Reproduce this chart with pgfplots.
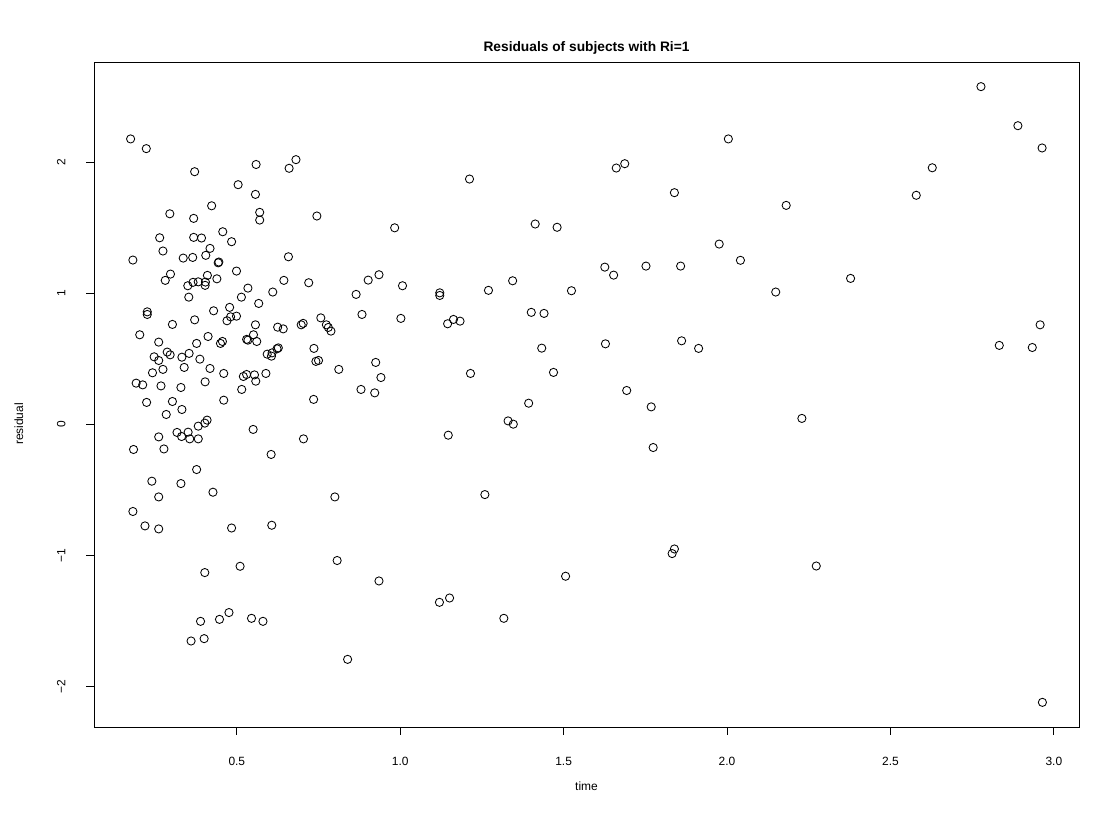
\documentclass[border=0pt]{standalone}
\usepackage{fontspec}
\setmainfont{Liberation Sans}
\usepackage{pgfplots}
\pgfplotsset{compat=1.18}

\begin{document}
\begin{tikzpicture}[x=1bp,y=1bp]
\path (0,0) rectangle (1105,818);
\begin{axis}[
  at={(94bp,91bp)}, anchor=south west,
  scale only axis, width=985bp, height=665bp,
  xmin=0.063, xmax=3.077, ymin=-2.31, ymax=2.763,
  axis line style={line width=0.8bp},
  tick style={line width=0.8bp, black},
  xtick={0.5,1.0,1.5,2.0,2.5,3.0},
  xticklabels={0.5,1.0,1.5,2.0,2.5,3.0},
  ytick={-2,-1,0,1,2},
  yticklabels={−2,−1,0,1,2},
  xtick pos=bottom, ytick pos=left,
  tick align=outside, major tick length=8bp,
  ticklabel style={font=\fontsize{12}{14}\selectfont},
  xticklabel shift=19bp,
  yticklabel shift=17bp,
  yticklabel style={rotate=90, anchor=south},
]
\addplot[only marks, mark=o, mark size=4.1bp, mark options={line width=0.85bp, black}]
coordinates {
(0.175,2.176) (0.223,2.102) (0.371,1.926) (0.559,1.981) (0.504,1.827)
(0.557,1.753) (0.570,1.616) (0.570,1.557) (0.423,1.666) (0.295,1.605)
(0.368,1.570) (0.457,1.468) (0.484,1.392) (0.264,1.422) (0.368,1.425)
(0.392,1.420) (0.418,1.341) (0.274,1.321) (0.182,1.252) (0.336,1.267)
(0.365,1.272) (0.405,1.288) (0.443,1.231) (0.445,1.237) (0.499,1.168)
(0.297,1.145) (0.281,1.097) (0.410,1.135) (0.439,1.109) (0.350,1.056)
(0.366,1.082) (0.382,1.086) (0.404,1.084) (0.403,1.059) (0.534,1.038)
(0.514,0.969) (0.567,0.921) (0.610,1.008) (0.353,0.969) (0.226,0.857)
(0.226,0.837) (0.429,0.865) (0.478,0.891) (0.481,0.819) (0.470,0.789)
(0.499,0.824) (0.371,0.796) (0.303,0.761) (0.557,0.758) (0.203,0.682)
(0.261,0.626) (0.377,0.616) (0.412,0.669) (0.450,0.616) (0.456,0.631)
(0.530,0.647) (0.534,0.641) (0.551,0.682) (0.561,0.631) (0.593,0.534)
(0.606,0.519) (0.247,0.514) (0.261,0.486) (0.287,0.550) (0.296,0.529)
(0.332,0.511) (0.354,0.540) (0.387,0.496) (0.242,0.392) (0.274,0.418)
(0.339,0.433) (0.418,0.425) (0.460,0.387) (0.520,0.364) (0.530,0.379)
(0.554,0.376) (0.558,0.328) (0.589,0.387) (0.192,0.313) (0.212,0.300)
(0.268,0.292) (0.329,0.280) (0.403,0.323) (0.515,0.265) (0.224,0.166)
(0.303,0.173) (0.460,0.183) (0.332,0.112) (0.284,0.074) (0.382,-0.015)
(0.402,0.008) (0.409,0.031) (0.317,-0.063) (0.331,-0.094) (0.351,-0.061)
(0.356,-0.112) (0.382,-0.112) (0.261,-0.097) (0.550,-0.040) (0.184,-0.193)
(0.277,-0.189) (0.605,-0.231) (0.377,-0.346) (0.240,-0.435) (0.329,-0.453)
(0.261,-0.555) (0.427,-0.519) (0.182,-0.666) (0.219,-0.776) (0.261,-0.799)
(0.484,-0.792) (0.607,-0.771) (0.402,-1.132) (0.510,-1.084) (0.389,-1.504)
(0.447,-1.489) (0.476,-1.437) (0.545,-1.481) (0.580,-1.504) (0.360,-1.654)
(0.400,-1.636) (0.660,1.952) (0.681,2.018) (0.745,1.588) (0.983,1.498)
(0.658,1.277) (0.644,1.097) (0.720,1.079) (0.865,0.990) (0.902,1.099)
(0.935,1.140) (1.007,1.056) (0.757,0.811) (0.883,0.837) (1.002,0.807)
(0.697,0.758) (0.703,0.769) (0.625,0.740) (0.642,0.727) (0.774,0.758)
(0.780,0.738) (0.788,0.710) (0.608,0.544) (0.623,0.575) (0.627,0.582)
(0.736,0.578) (0.742,0.479) (0.750,0.486) (0.812,0.418) (0.925,0.471)
(0.941,0.356) (0.880,0.265) (0.922,0.239) (0.735,0.189) (0.704,-0.112)
(0.800,-0.555) (0.807,-1.040) (0.935,-1.196) (0.839,-1.794)
(1.212,1.870) (1.661,1.954) (1.687,1.987) (1.413,1.527) (1.480,1.502)
(1.626,1.198) (1.653,1.137) (1.752,1.206) (1.121,1.002) (1.121,0.982)
(1.270,1.021) (1.344,1.094) (1.524,1.018) (1.401,0.853) (1.440,0.845)
(1.145,0.766) (1.163,0.799) (1.183,0.786) (1.433,0.580) (1.628,0.613)
(1.215,0.387) (1.469,0.395) (1.693,0.257) (1.393,0.160) (1.330,0.025)
(1.346,0.000) (1.147,-0.084) (1.259,-0.537) (1.506,-1.160) (1.120,-1.359)
(1.151,-1.326) (1.317,-1.481) (1.768,0.132) (1.774,-0.178)
(2.004,2.176) (1.839,1.766) (2.181,1.669) (1.976,1.374) (2.041,1.250)
(1.858,1.206) (2.378,1.112) (2.149,1.008) (1.861,0.636) (1.913,0.578)
(2.229,0.044) (1.839,-0.952) (1.832,-0.987) (2.273,-1.082)
(2.777,2.575) (2.890,2.277) (2.964,2.107) (2.628,1.956) (2.579,1.746)
(2.958,0.758) (2.833,0.601) (2.934,0.585) (2.965,-2.122)
};
\end{axis}
\node[font=\bfseries\fontsize{13.8}{16}\selectfont, anchor=base] at (586.5,766) {Residuals of subjects with Ri=1};
\node[font=\fontsize{12}{14}\selectfont, anchor=base] at (586.5,27) {time};
\node[font=\fontsize{12}{14}\selectfont, anchor=base, rotate=90] at (23,394) {residual};
\end{tikzpicture}
\end{document}
